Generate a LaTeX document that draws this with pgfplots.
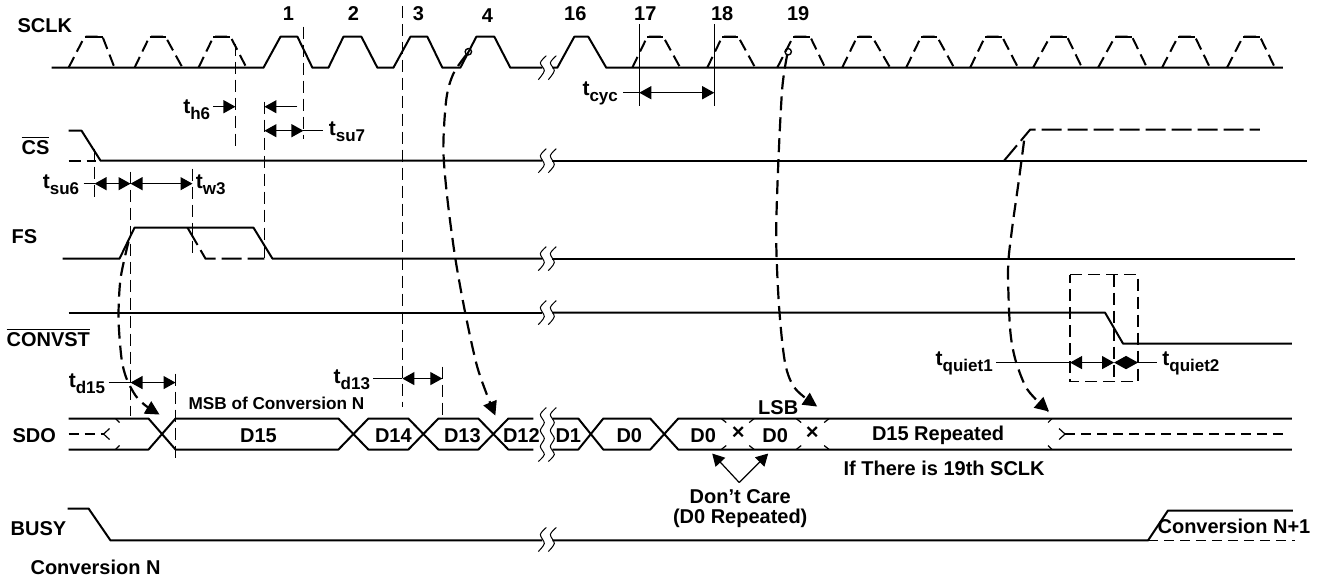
\documentclass[border=0pt]{standalone}
\usepackage{fontspec}
\setmainfont{Liberation Sans}
\usepackage{pgfplots}
\pgfplotsset{compat=1.18}
\usetikzlibrary{arrows.meta}
\newcommand\ts[1]{{\fontsize{10.5pt}{12pt}\selectfont t}\raisebox{-0.55ex}{\fontsize{8.5pt}{9pt}\selectfont #1}}
\tikzset{
 wave/.style={black, line width=1pt, line join=round},
 wd/.style={black, line width=1pt, dash pattern=on 6pt off 3pt},
 thin/.style={black, line width=0.6pt},
 vd/.style={black, line width=0.6pt, dash pattern=on 6pt off 3pt},
 dl/.style={black, line width=0.9pt, dash pattern=on 5pt off 3pt},
 dc/.style={black, line width=1.1pt, dash pattern=on 7pt off 3.5pt, smooth, -{Triangle[length=7pt,width=7pt]}},
 dlong/.style={black, line width=1pt, dash pattern=on 10pt off 3pt},
 ar/.style={black, line width=0.6pt, -{Triangle[length=6pt,width=6.5pt]}},
 arr/.style={black, line width=0.6pt, {Triangle[length=6pt,width=6.5pt]}-{Triangle[length=6pt,width=6.5pt]}},
 sq/.style={black, line width=0.5pt, smooth},
}
\begin{document}
\begin{tikzpicture}[font=\fontsize{10pt}{12pt}\selectfont\bfseries]
\begin{axis}[hide axis, scale only axis, width=658.5pt, height=289pt,
 xmin=0, xmax=1317, ymin=0, ymax=578, y dir=reverse, clip=false]

% ---------------- SCLK ----------------
\addplot[wave] coordinates {(56,69)(268,69)(285,38)(302,38)(317,69)(333,69)(348,38)(366,38)(382,69)(398,69)(415,38)(432,38)(447,69)(465,69)(481,38)(499,38)(515,69)(547,69)};
\addplot[wave] coordinates {(557,69)(562,69)(579,38)(593,38)(611,69)(1288,69)};
% dashed-edge pulses
\addplot[wd] coordinates {(73,69)(89,38)(107,38)(119,69)};
\addplot[wave] coordinates {(89,38)(107,38)};
\addplot[wd] coordinates {(139,69)(154,38)(170,38)(187,69)};
\addplot[wave] coordinates {(154,38)(170,38)};
\addplot[wd] coordinates {(203,69)(218,38)(235,38)(251,69)};
\addplot[wave] coordinates {(218,38)(235,38)};
\addplot[wd] coordinates {(637,69)(652,38)(668,38)(685,69)};
\addplot[wave] coordinates {(652,38)(668,38)};
\addplot[wd] coordinates {(712,69)(727,38)(743,38)(760,69)};
\addplot[wave] coordinates {(727,38)(743,38)};
\addplot[wd] coordinates {(782,69)(798,38)(815,38)(830,69)};
\addplot[wave] coordinates {(798,38)(815,38)};
\addplot[wd] coordinates {(847,69)(862,38)(877,38)(895,69)};
\addplot[wave] coordinates {(862,38)(877,38)};
\addplot[wd] coordinates {(911,69)(926,38)(942,38)(959,69)};
\addplot[wave] coordinates {(926,38)(942,38)};
\addplot[wd] coordinates {(975,69)(990,38)(1007,38)(1023,69)};
\addplot[wave] coordinates {(990,38)(1007,38)};
\addplot[wd] coordinates {(1038,69)(1055,38)(1072,38)(1087,69)};
\addplot[wave] coordinates {(1055,38)(1072,38)};
\addplot[wd] coordinates {(1103,69)(1120,38)(1137,38)(1152,69)};
\addplot[wave] coordinates {(1120,38)(1137,38)};
\addplot[wd] coordinates {(1167,69)(1183,38)(1200,38)(1215,69)};
\addplot[wave] coordinates {(1183,38)(1200,38)};
\addplot[wd] coordinates {(1232,69)(1248,38)(1265,38)(1280,69)};
\addplot[wave] coordinates {(1248,38)(1265,38)};

% ---------------- CS ----------------
\addplot[wave] coordinates {(73,132)(86,132)(105,162)(547,162)};
\addplot[wave] coordinates {(557,162)(1312,162)};
\addplot[wd] coordinates {(73,162)(100,162)};
\addplot[dlong] coordinates {(1009,162)(1035,131)(1265,131)};

% ---------------- FS ----------------
\addplot[wave] coordinates {(67,260)(124,260)(139,229)(258,229)(277,260)(547,260)};
\addplot[wave] coordinates {(557,260)(1300,260)};
\addplot[dlong] coordinates {(192,229)(210,260)(269,260)};

% ---------------- CONVST ----------------
\addplot[wave] coordinates {(73,314)(547,314)};
\addplot[wave] coordinates {(557,314)(1110,314)(1128,345)(1297,345)};

% ---------------- SDO ----------------
\addplot[wave] coordinates {(73,420)(153,420)(180,451)(343,451)(373,420)(413,420)(443,451)(483,451)(513,420)(538,420)};
\addplot[wave] coordinates {(73,451)(153,451)(180,420)(343,420)(373,451)(413,451)(443,420)(483,420)(513,451)(538,451)};
\addplot[wave] coordinates {(557,420)(583,420)(608,451)(655,451)(683,420)(1297,420)};
\addplot[wave] coordinates {(557,451)(583,451)(608,420)(655,420)(683,451)(1297,451)};
\addplot[dl] coordinates {(73,435.5)(108,435.5)};
\addplot[thin] coordinates {(114,430)(108,435.5)(114,441)};
\addplot[thin] coordinates {(120,420)(124,424)};
\addplot[thin] coordinates {(120,451)(124,447)};
\addplot[thin] coordinates {(1064,430)(1070,435.5)(1064,441)};
\addplot[dl] coordinates {(1070,435.5)(1292,435.5)};
\addplot[thin] coordinates {(1057,420)(1053,424)};
\addplot[thin] coordinates {(1057,451)(1053,447)};
% don't-care transitions
\addplot[thin] coordinates {(726,420)(731,424)};
\addplot[thin] coordinates {(759,420)(754,424)};
\addplot[thin] coordinates {(726,451)(731,447)};
\addplot[thin] coordinates {(759,451)(754,447)};
\addplot[thin] coordinates {(801,420)(806,424)};
\addplot[thin] coordinates {(834,420)(829,424)};
\addplot[thin] coordinates {(801,451)(806,447)};
\addplot[thin] coordinates {(834,451)(829,447)};

% ---------------- BUSY ----------------
\addplot[wave] coordinates {(72,510)(93,510)(115,542)(547,542)};
\addplot[wave] coordinates {(557,542)(1153,542)(1173,512)(1298,512)};
\addplot[dl] coordinates {(1153,542)(1300,542)};

% ---------------- break marks ----------------
\addplot[sq] coordinates {(551,57)(545,64)(549,72)(543,81)};
\addplot[sq] coordinates {(561,57)(555,64)(559,72)(553,81)};
\addplot[sq] coordinates {(551,150)(545,157)(549,166)(543,174)};
\addplot[sq] coordinates {(561,150)(555,157)(559,166)(553,174)};
\addplot[sq] coordinates {(551,248)(545,255)(549,264)(543,272)};
\addplot[sq] coordinates {(561,248)(555,255)(559,264)(553,272)};
\addplot[sq] coordinates {(551,302)(545,309)(549,318)(543,326)};
\addplot[sq] coordinates {(561,302)(555,309)(559,318)(553,326)};
\addplot[sq] coordinates {(551,529)(545,536)(549,545)(543,553)};
\addplot[sq] coordinates {(561,529)(555,536)(559,545)(553,553)};
\addplot[sq] coordinates {(551,409)(545,416)(549,424)(545,432)(549,440)(545,448)(549,456)(543,463)};
\addplot[sq] coordinates {(561,409)(555,416)(559,424)(555,432)(559,440)(555,448)(559,456)(553,463)};

% ---------------- vertical reference lines ----------------
\addplot[vd] coordinates {(240,45)(240,147)};
\addplot[vd] coordinates {(308,28)(308,140)};
\addplot[vd] coordinates {(269,103)(269,260)};
\addplot[vd] coordinates {(407,7)(407,408)};
\addplot[vd] coordinates {(99,150)(99,202)};
\addplot[vd] coordinates {(135,173)(135,417)};
\addplot[vd] coordinates {(197,170)(197,258)};
\addplot[vd] coordinates {(180,375)(180,460)};
\addplot[vd] coordinates {(447,368)(447,420)};
\addplot[thin] coordinates {(644,25)(644,107)};
\addplot[thin] coordinates {(719,25)(719,107)};
% t_quiet box
\addplot[vd] coordinates {(1075,276)(1143,276)(1143,383)(1075,383)(1075,276)};
\addplot[vd] coordinates {(1119,276)(1119,383)};

% ---------------- timing arrows ----------------
\addplot[ar] coordinates {(218,108)(240,108)};
\addplot[ar] coordinates {(302,108)(269,108)};
\addplot[arr] coordinates {(269,132)(308,132)};
\addplot[thin] coordinates {(308,132)(328,132)};
\addplot[thin] coordinates {(88,185)(99,185)};
\addplot[arr] coordinates {(99,185)(135,185)};
\addplot[arr] coordinates {(135,185)(197,185)};
\addplot[thin] coordinates {(113,384)(135,384)};
\addplot[arr] coordinates {(135,384)(180,384)};
\addplot[thin] coordinates {(378,380)(407,380)};
\addplot[arr] coordinates {(407,380)(447,380)};
\addplot[thin] coordinates {(628,94)(644,94)};
\addplot[arr] coordinates {(644,94)(719,94)};
\addplot[thin] coordinates {(1001,364)(1075,364)};
\addplot[arr] coordinates {(1075,364)(1119,364)};
\addplot[arr] coordinates {(1119,364)(1143,364)};
\addplot[thin] coordinates {(1143,364)(1162,364)};
\addplot[ar] coordinates {(744,484)(717,455)};
\addplot[ar] coordinates {(744,484)(773,455)};

% ---------------- causal dashed curves ----------------
\addplot[dc] coordinates {(133,243)(125,280)(123,320)(126,360)(131,380)(140,397)(150,407)(164,416)};
\addplot[dc] coordinates {(471,56)(458,75)(451,100)(448,150)(452,200)(460,260)(470,315)(481,365)(490,392)(500,417)};
\addplot[dc] coordinates {(792,56)(787,90)(783,167)(781,240)(784,310)(790,365)(800,390)(822,408)};
\addplot[dc] coordinates {(1029,142)(1024,180)(1017,230)(1013,270)(1015,330)(1020,360)(1030,387)(1040,400)(1054,413)};
\addplot[only marks, mark=o, mark size=1.6pt, mark options={black, line width=0.7pt, fill=white}] coordinates {(473,53)(793,53)};

% ---------------- labels ----------------
\node[anchor=west] at (axis cs:15,27) {SCLK};
\node at (axis cs:293,15) {1};
\node at (axis cs:358,15) {2};
\node at (axis cs:423,15) {3};
\node at (axis cs:492,17) {4};
\node at (axis cs:580,15) {16};
\node at (axis cs:650,15) {17};
\node at (axis cs:727,15) {18};
\node at (axis cs:803,15) {19};
\node[anchor=east, inner sep=1pt] at (axis cs:217,111) {\ts{h6}};
\node[anchor=west, inner sep=1pt] at (axis cs:331,133) {\ts{su7}};
\node[anchor=west] at (axis cs:19,147) {$\overline{\mbox{CS}}$};
\node[anchor=east, inner sep=1pt] at (axis cs:86,186) {\ts{su6}};
\node[anchor=west, inner sep=1pt] at (axis cs:198,186) {\ts{w3}};
\node[anchor=west] at (axis cs:9,238) {FS};
\node[anchor=west] at (axis cs:4,339) {$\overline{\mbox{CONVST}}$};
\node[anchor=east, inner sep=1pt] at (axis cs:112,385) {\ts{d15}};
\node[anchor=east, inner sep=1pt] at (axis cs:377,381) {\ts{d13}};
\node[anchor=east, inner sep=1pt] at (axis cs:625,95) {\ts{cyc}};
\node[anchor=east, inner sep=1pt] at (axis cs:1000,365) {\ts{quiet1}};
\node[anchor=west, inner sep=1pt] at (axis cs:1165,365) {\ts{quiet2}};
\node[anchor=west, font=\fontsize{8.6pt}{10pt}\selectfont\bfseries] at (axis cs:186,405) {MSB of Conversion N};
\node[anchor=west] at (axis cs:10,437) {SDO};
\node at (axis cs:263,437) {D15};
\node at (axis cs:398,437) {D14};
\node at (axis cs:467,437) {D13};
\node at (axis cs:526,437) {D12};
\node at (axis cs:573,437) {D1};
\node at (axis cs:634,437) {D0};
\node at (axis cs:708,437) {D0};
\node[font=\fontsize{11pt}{12pt}\selectfont\bfseries] at (axis cs:743,435) {×};
\node at (axis cs:780,437) {D0};
\node[font=\fontsize{11pt}{12pt}\selectfont\bfseries] at (axis cs:817,435) {×};
\node at (axis cs:783,409) {LSB};
\node at (axis cs:943,437) {D15 Repeated};
\node at (axis cs:949,470) {If There is 19th SCLK};
\node at (axis cs:745,498) {Don’t Care};
\node at (axis cs:745,520) {(D0 Repeated)};
\node[anchor=west] at (axis cs:8,530) {BUSY};
\node at (axis cs:100,569) {Conversion N};
\node at (axis cs:1239,528) {Conversion N+1};
\end{axis}
\end{tikzpicture}
\end{document}
